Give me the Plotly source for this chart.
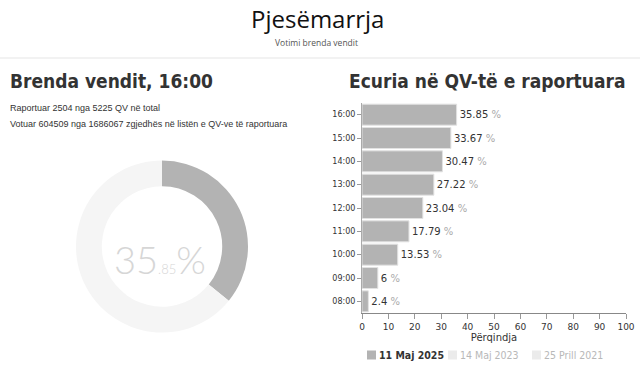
import plotly.graph_objects as go

W, H = 640, 367

# ---- data ----
hours = ["08:00", "09:00", "10:00", "11:00", "12:00", "13:00", "14:00", "15:00", "16:00"]
turnout_2025 = [2.4, 6, 13.53, 17.79, 23.04, 27.22, 30.47, 33.67, 35.85]
series_names = ["11 Maj 2025", "14 Maj 2023", "25 Prill 2021"]
series_colors = ["#b3b3b3", "#ebebeb", "#ebebeb"]
series_text_colors = ["#333333", "#b8b8b8", "#b8b8b8"]
donut_value = 35.85
x_ticks = [0, 10, 20, 30, 40, 50, 60, 70, 80, 90, 100]

def px_x(p):
    return p / W

def px_y(p):
    return 1 - p / H

fig = go.Figure()

# donut
cx, cy, r = 162, 246.5, 86
fig.add_trace(go.Pie(
    values=[donut_value, 100 - donut_value],
    marker=dict(colors=["#b3b3b3", "#f5f5f5"], line=dict(width=0)),
    hole=0.70, sort=False, direction="clockwise", rotation=0,
    textinfo="none", hoverinfo="skip", showlegend=False, automargin=False,
    domain=dict(x=[px_x(cx - r), px_x(cx + r)], y=[px_y(cy + r), px_y(cy - r)]),
))

# bars
labels = [f"{v:g} <span style='color:#aaaaaa'>%</span>" for v in turnout_2025]
fig.add_trace(go.Bar(
    x=turnout_2025, y=hours, orientation="h",
    name=series_names[0], showlegend=False,
    marker=dict(color=series_colors[0], line=dict(color="#e2e2e2", width=1)),
    text=labels, textposition="outside", cliponaxis=False,
    textfont=dict(family="DejaVu Sans", size=10, color="#333333"),
    xaxis="x", yaxis="y",
))

fig.update_layout(
    width=W, height=H, autosize=False,
    margin=dict(l=0, r=0, t=0, b=0, pad=0),
    paper_bgcolor="white", plot_bgcolor="white",
    bargap=0.1, showlegend=False,
    xaxis=dict(
        domain=[px_x(362), px_x(626)], range=[0, 100], automargin=False,
        tickvals=x_ticks, showgrid=False, zeroline=False,
        showline=True, linecolor="#888888", linewidth=1,
        ticks="outside", ticklen=5, tickcolor="#999999",
        tickfont=dict(family="DejaVu Sans", size=9, color="#333333"),
        title=dict(text="Përqindja", font=dict(family="DejaVu Sans", size=10, color="#333333"), standoff=0),
        anchor="y", fixedrange=True,
    ),
    yaxis=dict(
        domain=[px_y(313), px_y(103)], automargin=False,
        categoryorder="array", categoryarray=hours,
        showgrid=False, zeroline=False,
        showline=True, linecolor="#aaaaaa", linewidth=1,
        ticks="outside", ticklen=4, tickcolor="#999999",
        tickfont=dict(family="DejaVu Sans", size=8, color="#333333"),
        anchor="x", fixedrange=True,
    ),
)

shapes = [dict(type="line", xref="paper", yref="paper", x0=0, x1=1,
               y0=px_y(58), y1=px_y(58), line=dict(color="#f2f2f2", width=2))]

cond = "DejaVu Sans Condensed, Liberation Sans"
ann = []
ann.append(dict(text="Pjesëmarrja", x=px_x(317), y=px_y(18), xanchor="center", yanchor="middle",
                font=dict(family="Open Sans", size=24, color="#111111")))
ann.append(dict(text="Votimi brenda vendit", x=px_x(316), y=px_y(43), xanchor="center", yanchor="middle",
                font=dict(family="Open Sans", size=8.5, color="#555555")))
ann.append(dict(text="<b>Brenda vendit, 16:00</b>", x=px_x(8), y=px_y(81), xanchor="left", yanchor="middle",
                font=dict(family=cond, size=19, color="#333333")))
ann.append(dict(text="<b>Ecuria në QV-të e raportuara</b>", x=px_x(487), y=px_y(81), xanchor="center", yanchor="middle",
                font=dict(family=cond, size=19, color="#333333")))
ann.append(dict(text="Raportuar 2504 nga 5225 QV në total", x=px_x(8), y=px_y(108), xanchor="left", yanchor="middle",
                font=dict(family="Liberation Sans", size=9, color="#333333")))
ann.append(dict(text="Votuar 604509 nga 1686067 zgjedhës në listën e QV-ve të raportuara", x=px_x(8), y=px_y(124),
                xanchor="left", yanchor="middle",
                font=dict(family="Liberation Sans", size=9, color="#333333")))
whole, frac = f"{donut_value:.2f}".split(".")
ann.append(dict(text=f"{whole}<span style='font-size:13px'>.{frac}</span>%", x=px_x(160), y=px_y(259),
                xanchor="center", yanchor="middle",
                font=dict(family="Lato", size=38, color="#d6d6d6", weight=300)))

# legend (series names)
leg_sq_x = [367, 448, 532]
for i, nm in enumerate(series_names):
    x0 = leg_sq_x[i]
    shapes.append(dict(type="rect", xref="paper", yref="paper",
                       x0=px_x(x0), x1=px_x(x0 + 9), y0=px_y(359.5), y1=px_y(350.5),
                       fillcolor=series_colors[i], line=dict(width=0)))
    txt = f"<b>{nm}</b>" if i == 0 else nm
    ann.append(dict(text=txt, x=px_x(x0 + 10), y=px_y(355), xanchor="left", yanchor="middle",
                    font=dict(family=cond, size=10.5, color=series_text_colors[i])))

for a in ann:
    a.update(xref="paper", yref="paper", showarrow=False)
fig.update_layout(annotations=ann, shapes=shapes)

fig.write_html("out.html")
